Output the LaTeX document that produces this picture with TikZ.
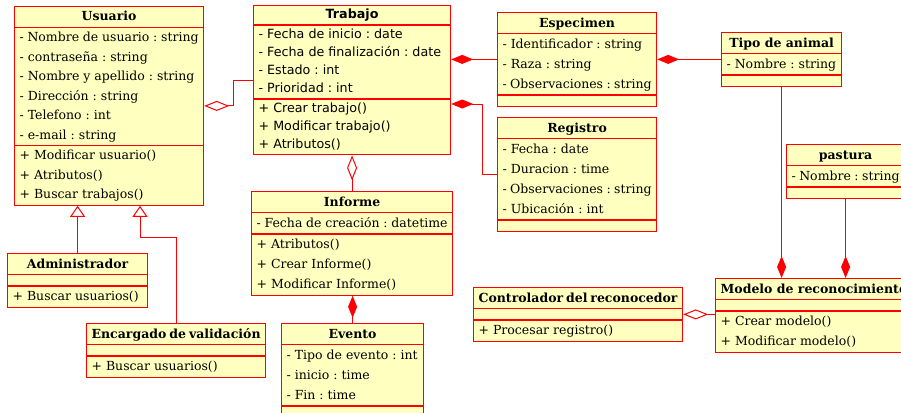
\documentclass[tikz,border=0pt]{standalone}
\usepackage{fontspec}
\setmainfont{DejaVu Serif}
\newfontfamily\umlsans{DejaVu Sans}
\usepackage{tikz}
\usetikzlibrary{shapes.multipart,arrows.meta,calc}
\definecolor{umlred}{RGB}{255,0,0}
\definecolor{umlfill}{RGB}{255,255,192}
\tikzset{
  umlclass/.style={rectangle split, rectangle split parts=3, draw=umlred, fill=umlfill,
    line width=1.2pt, inner xsep=5pt, inner ysep=0pt, anchor=north west,
    font=\fontsize{12.5}{20}\selectfont\frenchspacing},
  umlw/.code={\def\umlwidth{#1}},
  assoc/.style={draw=umlred, line width=1pt},
  aggr/.style={assoc, {Diamond[length=25pt, width=10pt, fill=white]}-},
  comp/.style={assoc, {Diamond[length=22pt, width=9pt]}-},
  gen/.style={assoc, -{Triangle[length=11pt, width=15pt, fill=white]}}
}
\newcommand{\umltitle}[1]{\hbox to\umlwidth{\hfil\strut\textbf{#1}\hfil}}
\newcommand{\umlrows}[1]{\vbox{\hsize=\umlwidth #1}}
\newcommand{\umlrow}[1]{\hbox to\umlwidth{\strut#1\hfil}}
\newcommand{\umlgap}{\hbox to\umlwidth{\rule{0pt}{10pt}\hfil}}

\begin{document}
\begin{tikzpicture}[x=1pt,y=-1pt]
\useasboundingbox (0,0) rectangle (901,412);
% Classes
\node[umlclass, umlw=179pt, font=\fontsize{12.5}{19.5}\selectfont\frenchspacing] (usuario) at (14,6) {\umltitle{Usuario}
  \nodepart{two}\umlrows{\umlrow{- Nombre de usuario : string}\umlrow{- contraseña : string}\umlrow{- Nombre y apellido : string}\umlrow{- Dirección : string}\umlrow{- Telefono : int}\umlrow{- e-mail : string}}
  \nodepart{three}\umlrows{\umlrow{+ Modificar usuario()}\umlrow{+ Atributos()}\umlrow{+ Buscar trabajos()}}};
\node[umlclass, umlw=187pt, font=\umlsans\fontsize{12.7}{18.2}\selectfont\frenchspacing] (trabajo) at (253,5) {\umltitle{Trabajo}
  \nodepart{two}\umlrows{\umlrow{- Fecha de inicio : date}\umlrow{- Fecha de finalización : date}\umlrow{- Estado : int}\umlrow{- Prioridad : int}}
  \nodepart{three}\umlrows{\umlrow{+ Crear trabajo()}\umlrow{+ Modificar trabajo()}\umlrow{+ Atributos()}}};
\node[umlclass, umlw=149pt] (especimen) at (497,12) {\umltitle{Especimen}
  \nodepart{two}\umlrows{\umlrow{- Identificador : string}\umlrow{- Raza : string}\umlrow{- Observaciones : string}}
  \nodepart{three}\umlgap};
\node[umlclass, umlw=110pt] (tipo) at (721,32) {\umltitle{Tipo de animal}
  \nodepart{two}\umlrows{\umlrow{- Nombre : string}}
  \nodepart{three}\umlgap};
\node[umlclass, umlw=149pt] (registro) at (497,117) {\umltitle{Registro}
  \nodepart{two}\umlrows{\umlrow{- Fecha : date}\umlrow{- Duracion : time}\umlrow{- Observaciones : string}\umlrow{- Ubicación : int}}
  \nodepart{three}\umlgap};
\node[umlclass, umlw=108pt] (pastura) at (786,144) {\umltitle{pastura}
  \nodepart{two}\umlrows{\umlrow{- Nombre : string}}
  \nodepart{three}\umlgap};
\node[umlclass, umlw=191pt] (informe) at (251,191) {\umltitle{Informe}
  \nodepart{two}\umlrows{\umlrow{- Fecha de creación : datetime}}
  \nodepart{three}\umlrows{\umlrow{+ Atributos()}\umlrow{+ Crear Informe()}\umlrow{+ Modificar Informe()}}};
\node[umlclass, umlw=132pt] (evento) at (281,323) {\umltitle{Evento}
  \nodepart{two}\umlrows{\umlrow{- Tipo de evento : int}\umlrow{- inicio : time}\umlrow{- Fin : time}}
  \nodepart{three}\umlgap};
\node[umlclass, umlw=130pt] (admin) at (7,253) {\umltitle{Administrador}
  \nodepart{two}\umlgap
  \nodepart{three}\umlrows{\umlrow{+ Buscar usuarios()}}};
\node[umlclass, umlw=169pt] (encargado) at (86,323) {\umltitle{Encargado de validación}
  \nodepart{two}\umlgap
  \nodepart{three}\umlrows{\umlrow{+ Buscar usuarios()}}};
\node[umlclass, umlw=199pt] (controlador) at (473,287) {\umltitle{Controlador del reconocedor}
  \nodepart{two}\umlgap
  \nodepart{three}\umlrows{\umlrow{+ Procesar registro()}}};
\node[umlclass, umlw=205pt] (modelo) at (715,278) {\umlrow{\textbf{Modelo de reconocimiento}}
  \nodepart{two}\umlgap
  \nodepart{three}\umlrows{\umlrow{+ Crear modelo()}\umlrow{+ Modificar modelo()}}};

% Relations
\draw[aggr] (usuario.east) -- ++(29,0) |- (trabajo.west);
\draw[comp] (trabajo.east |- especimen.west) -- (especimen.west);
\draw[comp] ([yshift=-5pt]trabajo.two split east) -- ++(31,0) |- (registro.west);
\draw[comp] (especimen.east) -- (tipo.west);
\draw[comp] (tipo.south |- modelo.north) -- (tipo.south);
\draw[comp] (pastura.south |- modelo.north) -- (pastura.south);
\draw[aggr] (controlador.east) -- (controlador.east -| modelo.west);
\draw[aggr] (trabajo.south) -- (informe.north);
\draw[comp] (evento.north |- informe.south) -- (evento.north);
\coordinate (genb) at ($(usuario.south west)+(126,0)$);
\draw[gen] (admin.north) -- (admin.north |- usuario.south);
\draw[gen] (encargado.north) -- ++(0,-86) -| (genb);
\end{tikzpicture}
\end{document}
